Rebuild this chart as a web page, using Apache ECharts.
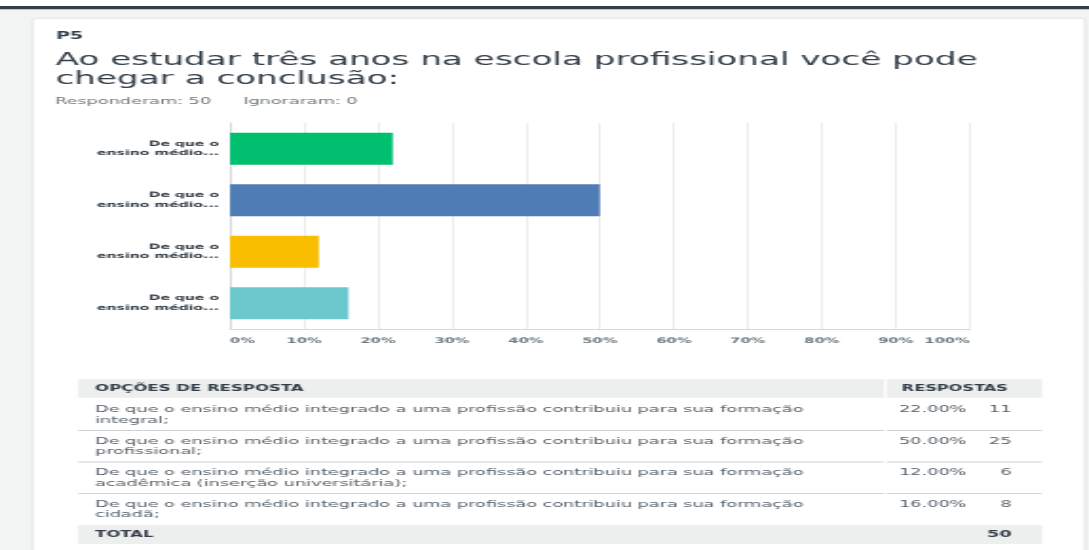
<!DOCTYPE html>
<html>
<head>
<meta charset="utf-8">
<script src="https://cdn.jsdelivr.net/npm/echarts@6/dist/echarts.min.js"></script>
<style>
  html, body { margin: 0; padding: 0; overflow: hidden; background: #f2f3f3; }
  #chart { width: 573.16px; height: 550px; transform: scaleX(1.9); transform-origin: 0 0; }
</style>
</head>
<body>
<div id="chart"></div>
<script>
// ---- data ----
const questionNo = 'P5';
const titleLines = ['Ao estudar três anos na escola profissional você pode', 'chegar a conclusão:'];
const answeredText = 'Responderam: 50';
const skippedText = 'Ignoraram: 0';
const options = [
  'De que o ensino médio integrado a uma profissão contribuiu para sua formação integral;',
  'De que o ensino médio integrado a uma profissão contribuiu para sua formação profissional;',
  'De que o ensino médio integrado a uma profissão contribuiu para sua formação acadêmica (inserção universitária);',
  'De que o ensino médio integrado a uma profissão contribuiu para sua formação cidadã;'
];
const axisLabels = ['De que o\nensino médio...', 'De que o\nensino médio...', 'De que o\nensino médio...', 'De que o\nensino médio...'];
const percents = [22, 50, 12, 16];
const counts = [11, 25, 6, 8];
const totalCount = 50;
const xTicks = [0, 10, 20, 30, 40, 50, 60, 70, 80, 90, 100];
const tableHeaders = ['OPÇÕES DE RESPOSTA', 'RESPOSTAS'];
const totalLabel = 'TOTAL';
const palette = ['#00bf6f', '#507cb6', '#f9be00', '#6bc8cd'];

// ---- styles ----
const FF = '"DejaVu Sans", sans-serif';
const DARK = '#333e48';
const GRAY = '#6b787f';
const ROW = '#56616a';

const chart = echarts.init(document.getElementById('chart'), null, { renderer: 'canvas' });

function txt(x, y, text, size, weight, fill, align) {
  return {
    type: 'text', x: x, y: y, z: 10,
    style: {
      text: text, fontSize: size, fontFamily: FF, fontWeight: weight || 'normal',
      fill: fill, textAlign: align || 'left', textVerticalAlign: 'middle'
    }
  };
}

function splitOption(s) {
  const k = s.lastIndexOf('formação') + 'formação'.length;
  return [s.slice(0, k), s.slice(k).trim()];
}

const graphics = [];
// page chrome
graphics.push({ type: 'rect', z: -5, shape: { x: 0, y: 0, width: 573.16, height: 6 }, style: { fill: '#ffffff' } });
graphics.push({ type: 'rect', z: -5, shape: { x: 0, y: 6, width: 573.16, height: 3.3 }, style: { fill: DARK } });
graphics.push({ type: 'rect', z: -4, shape: { x: 17.2, y: 18.3, width: 553.8, height: 560, r: 2 }, style: { fill: '#ffffff', stroke: '#e3e5e6', lineWidth: 1 } });

// header texts
graphics.push(txt(29.5, 36, questionNo, 10, 'bold', DARK));
graphics.push(txt(29.2, 60.5, titleLines[0], 18, 'normal', DARK));
graphics.push(txt(29.2, 79, titleLines[1], 18, 'normal', DARK));
graphics.push(txt(29, 102, answeredText, 9.3, 'normal', GRAY));
graphics.push(txt(127.9, 102, skippedText, 9.3, 'normal', GRAY));

// table
const tL = 41.2, tR = 548.3, gapL = 465.3, gapR = 466.7;
const txL = 50, pctX = 473.2, cntX = 532.4;
graphics.push({ type: 'rect', z: -3, shape: { x: tL, y: 379.3, width: gapL - tL, height: 18.4 }, style: { fill: '#edeeee' } });
graphics.push({ type: 'rect', z: -3, shape: { x: gapR, y: 379.3, width: tR - gapR, height: 18.4 }, style: { fill: '#edeeee' } });
graphics.push(txt(txL, 388.5, tableHeaders[0], 8.7, 'bold', DARK));
graphics.push(txt(474.6, 388.5, tableHeaders[1], 8.5, 'bold', DARK));

const rowTop = 399, rowPitch = 31.5;
options.forEach(function (opt, i) {
  const top = rowTop + i * rowPitch;
  const lines = splitOption(opt);
  graphics.push(txt(txL, top + 10.8, lines[0], 9.3, 'normal', ROW));
  graphics.push(txt(txL, top + 21.4, lines[1], 9.3, 'normal', ROW));
  graphics.push(txt(pctX, top + 10.8, percents[i].toFixed(2) + '%', 9.3, 'normal', ROW));
  graphics.push(txt(cntX, top + 10.8, String(counts[i]), 9.3, 'normal', ROW, 'right'));
  if (i < options.length - 1) {
    const sy = top + rowPitch;
    graphics.push({ type: 'line', z: -3, shape: { x1: tL, y1: sy, x2: gapL, y2: sy }, style: { stroke: '#d0d2d3', lineWidth: 1 } });
    graphics.push({ type: 'line', z: -3, shape: { x1: gapR, y1: sy, x2: tR, y2: sy }, style: { stroke: '#d0d2d3', lineWidth: 1 } });
  }
});
const totTop = rowTop + options.length * rowPitch;
graphics.push({ type: 'rect', z: -3, shape: { x: tL, y: totTop, width: tR - tL, height: 19 }, style: { fill: '#edeeee' } });
graphics.push(txt(txL, totTop + 9.5, totalLabel, 8.7, 'bold', DARK));
graphics.push(txt(cntX, totTop + 9.5, String(totalCount), 9.3, 'bold', DARK, 'right'));

const option = {
  backgroundColor: '#f2f3f3',
  animation: false,
  graphic: { elements: graphics },
  grid: { left: 121.05, right: 62.63, top: 123, height: 206, containLabel: false },
  xAxis: {
    type: 'value', min: xTicks[0], max: xTicks[xTicks.length - 1], interval: xTicks[1] - xTicks[0],
    axisLine: { show: true, lineStyle: { color: '#d6d9db', width: 1 } },
    axisTick: { show: false },
    splitLine: { show: true, lineStyle: { color: '#ececec', width: 1 } },
    axisLabel: {
      formatter: '{value}%', fontFamily: FF, fontSize: 7.7, fontWeight: 'bold', color: GRAY, margin: 8,
      alignMinLabel: 'left', alignMaxLabel: 'right'
    }
  },
  yAxis: {
    type: 'category', data: axisLabels, inverse: true,
    axisLine: { show: true, lineStyle: { color: '#d6d9db', width: 1 } },
    axisTick: { show: false },
    splitLine: { show: false },
    axisLabel: { fontFamily: FF, fontSize: 7.4, fontWeight: 'bold', color: DARK, lineHeight: 9.5, margin: 5.8, align: 'right' }
  },
  series: [{
    type: 'bar', barWidth: 32,
    data: percents.map(function (v, i) { return { value: v, itemStyle: { color: palette[i] } }; })
  }]
};
chart.setOption(option);
</script>
</body>
</html>
